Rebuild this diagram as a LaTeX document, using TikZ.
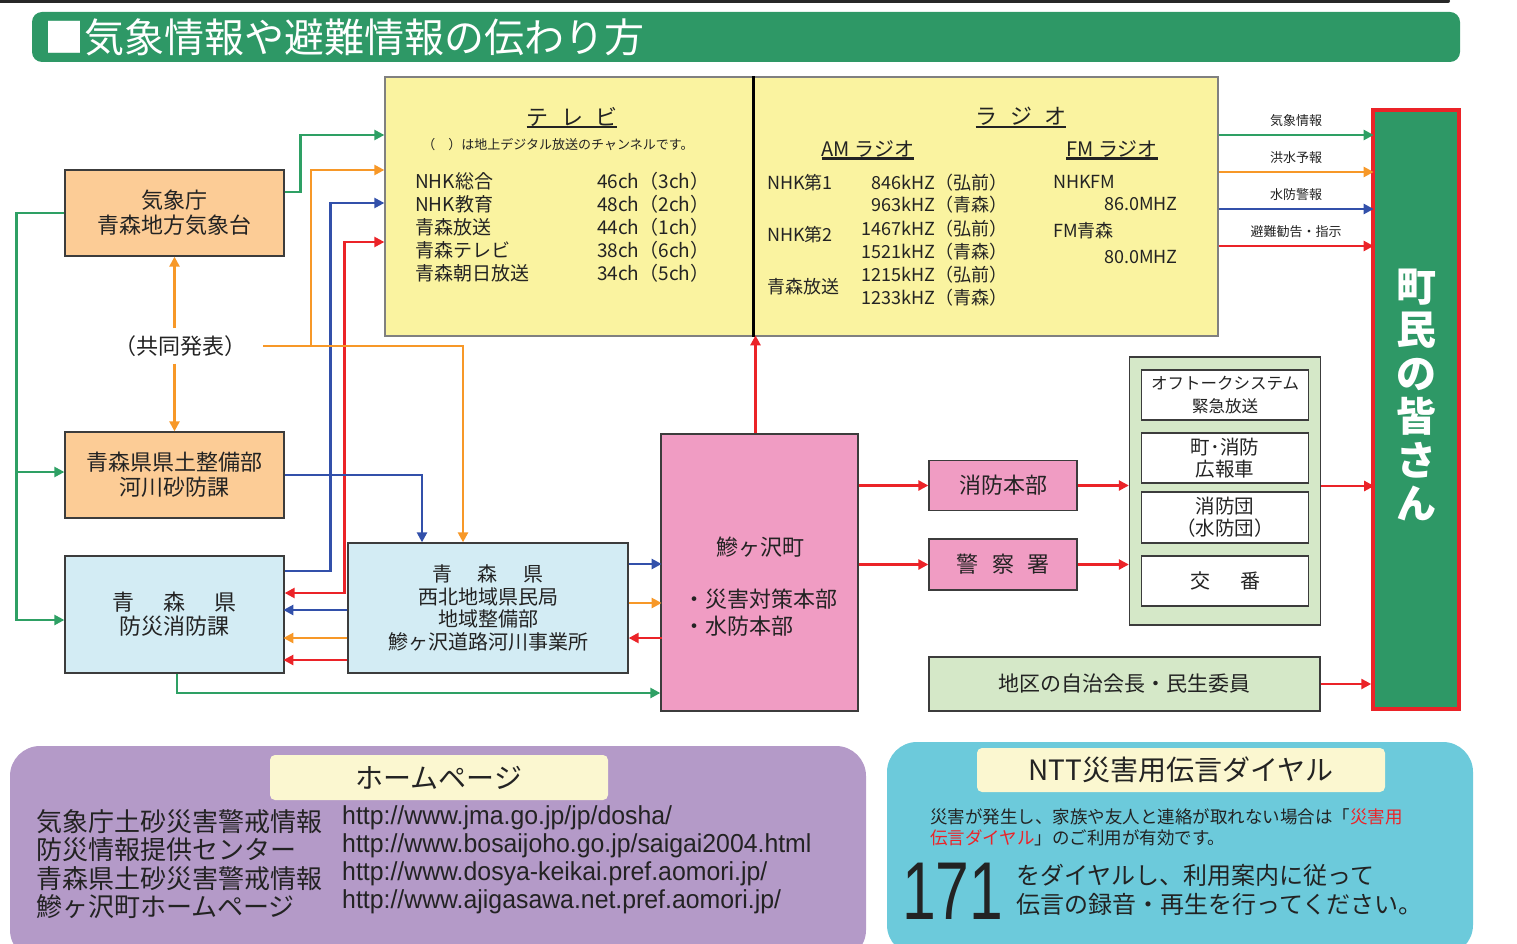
\documentclass[tikz,border=0pt]{standalone}
\usepackage{fontspec}
\setmainfont{Noto Sans CJK JP}
\newfontfamily\urlfont[FakeStretch=0.955]{Liberation Sans}
\newfontfamily\bignum[FakeStretch=0.74]{Liberation Sans}
\usetikzlibrary{arrows.meta}
\definecolor{bannergreen}{RGB}{46,152,102}
\definecolor{topline}{RGB}{40,40,40}
\definecolor{edge}{RGB}{60,60,60}
\definecolor{tvyellow}{RGB}{250,243,160}
\definecolor{orangebox}{RGB}{252,204,150}
\definecolor{bluebox}{RGB}{211,236,244}
\definecolor{pinkbox}{RGB}{240,156,195}
\definecolor{greenbox}{RGB}{213,232,200}
\definecolor{arrgreen}{RGB}{46,160,100}
\definecolor{arrorange}{RGB}{247,152,40}
\definecolor{arrblue}{RGB}{50,80,170}
\definecolor{arrred}{RGB}{235,35,40}
\definecolor{hppurple}{RGB}{180,154,200}
\definecolor{nttcyan}{RGB}{108,202,219}
\definecolor{headyellow}{RGB}{251,247,208}
\definecolor{ink}{RGB}{35,35,35}
\newcommand\fsz[2]{\fontsize{#1}{#2}\selectfont}
\begin{document}
\begin{tikzpicture}[x=1pt, y=-1pt,
    box/.style={draw=edge, line width=1.3pt, inner sep=0pt, align=center, text=ink},
    txt/.style={inner sep=0pt, text=ink},
    lab/.style={inner sep=0pt, text=ink, font=\fsz{13}{15}},
    wire/.style={line width=2.4pt},
    tip/.style={-{Triangle[length=10pt,width=10pt]}},
    gline/.style={wire, draw=arrgreen}, garrow/.style={gline, tip},
    oline/.style={wire, draw=arrorange}, oarrow/.style={oline, tip},
    bline/.style={wire, draw=arrblue}, barrow/.style={bline, tip},
    rline/.style={wire, draw=arrred}, rarrow/.style={rline, tip},
    uline/.style={line width=2.2pt, draw=ink}]
  \useasboundingbox (0,0) rectangle (1517,944);
  \clip (0,0) rectangle (1517,944);
  \draw[line width=4pt, line cap=round, topline] (0,1) -- (1448,1);
  \draw
    (746,37) node[fill=bannergreen, rounded corners=10pt, minimum width=1428pt, minimum height=50pt, inner sep=0pt] (banner) {}
    (44,37) node[anchor=west, inner sep=0pt, text=white, font=\fsz{40}{44}] (title) {■気象情報や避難情報の伝わり方};
  \draw
    (569,206.5) node[box, fill=tvyellow, draw=gray, minimum width=368pt, minimum height=259pt] (tv) {}
    (985.5,206.5) node[box, fill=tvyellow, draw=gray, minimum width=465pt, minimum height=259pt] (radio) {};
  \draw[line width=2.6pt] (tv.north east) -- (tv.south east);
  \draw
    (572,116.5) node[txt, font=\fsz{22}{24}] (tvhead) {テ\hspace{0.55em}レ\hspace{0.55em}ビ}
    (558,145) node[txt, font=\fsz{13}{15}] (tvnote) {（　）は地上デジタル放送のチャンネルです。}
    (415,181) node[txt, anchor=west, font=\fsz{19}{21}] (tv0) {NHK総合}
    (415,204) node[txt, anchor=west, font=\fsz{19}{21}] (tv1) {NHK教育}
    (415,227) node[txt, anchor=west, font=\fsz{19}{21}] (tv2) {青森放送}
    (415,250) node[txt, anchor=west, font=\fsz{19}{21}] (tv3) {青森テレビ}
    (415,273) node[txt, anchor=west, font=\fsz{19}{21}] (tv4) {青森朝日放送}
    (597,181) node[txt, anchor=west, font=\fsz{19}{21}] (ch0) {46ch（3ch）}
    (597,204) node[txt, anchor=west, font=\fsz{19}{21}] (ch1) {48ch（2ch）}
    (597,227) node[txt, anchor=west, font=\fsz{19}{21}] (ch2) {44ch（1ch）}
    (597,250) node[txt, anchor=west, font=\fsz{19}{21}] (ch3) {38ch（6ch）}
    (597,273) node[txt, anchor=west, font=\fsz{19}{21}] (ch4) {34ch（5ch）};
  \draw
    (1021,116.5) node[txt, font=\fsz{22}{24}] (radiohead) {ラ\hspace{0.55em}ジ\hspace{0.55em}オ}
    (868,149) node[txt, font=\fsz{20}{22}] (amhead) {AM ラジオ}
    (1112,149) node[txt, font=\fsz{20}{22}] (fmhead) {FM ラジオ}
    (767,183) node[txt, anchor=west, font=\fsz{18}{20}] (am0) {NHK第1}
    (767,235) node[txt, anchor=west, font=\fsz{18}{20}] (am1) {NHK第2}
    (767,287) node[txt, anchor=west, font=\fsz{18}{20}] (am2) {青森放送}
    (1008,183) node[txt, anchor=east, font=\fsz{18}{20}] (f0) {846kHZ（弘前）}
    (1008,205) node[txt, anchor=east, font=\fsz{18}{20}] (f1) {963kHZ（青森）}
    (1008,229) node[txt, anchor=east, font=\fsz{18}{20}] (f2) {1467kHZ（弘前）}
    (1008,252) node[txt, anchor=east, font=\fsz{18}{20}] (f3) {1521kHZ（青森）}
    (1008,275) node[txt, anchor=east, font=\fsz{18}{20}] (f4) {1215kHZ（弘前）}
    (1008,298) node[txt, anchor=east, font=\fsz{18}{20}] (f5) {1233kHZ（青森）}
    (1053,182) node[txt, anchor=west, font=\fsz{18}{20}] (fm0) {NHKFM}
    (1178,204) node[txt, anchor=east, font=\fsz{18}{20}] (mhz0) {86.0MHZ}
    (1053,231) node[txt, anchor=west, font=\fsz{18}{20}] (fm1) {FM青森}
    (1178,257) node[txt, anchor=east, font=\fsz{18}{20}] (mhz1) {80.0MHZ};
  \draw[uline] ([yshift=-1pt]tvhead.south west) -- ([yshift=-1pt]tvhead.south east);
  \draw[uline] ([yshift=-1pt]radiohead.south west) -- ([yshift=-1pt]radiohead.south east);
  \draw[uline] ([yshift=-1pt]amhead.south west) -- ([yshift=-1pt]amhead.south east);
  \draw[uline] ([yshift=-1pt]fmhead.south west) -- ([yshift=-1pt]fmhead.south east);
  \draw
    (174.5,213) node[box, fill=orangebox, minimum width=219pt, minimum height=86pt, font=\fsz{22}{25}] (met) {気象庁\\青森地方気象台}
    (180,346) node[txt, inner xsep=17pt, inner ysep=7pt, font=\fsz{22}{24}] (joint) {（共同発表）}
    (174.5,475) node[box, fill=orangebox, minimum width=219pt, minimum height=86pt, font=\fsz{22}{25}] (river) {青森県県土整備部\\河川砂防課}
    (174.5,614.5) node[box, fill=bluebox, minimum width=219pt, minimum height=117pt, font=\fsz{22}{24}] (pref) {青\hspace{1.3em}森\hspace{1.3em}県\\防災消防課}
    (488,608) node[box, fill=bluebox, minimum width=280pt, minimum height=130pt, font=\fsz{20}{22.5}] (west) {青\hspace{1.3em}森\hspace{1.3em}県\\西北地域県民局\\地域整備部\\鰺ヶ沢道路河川事業所}
    (759.5,572.5) node[box, fill=pinkbox, minimum width=197pt, minimum height=277pt] (town) {}
    (760,547) node[txt, font=\fsz{22}{24}] (townname) {鰺ヶ沢町}
    (683,599) node[txt, anchor=west, font=\fsz{22}{24}] (townhq) {・災害対策本部}
    (683,626) node[txt, anchor=west, font=\fsz{22}{24}] (townflood) {・水防本部}
    (1003,485.5) node[box, fill=pinkbox, minimum width=148pt, minimum height=50pt, font=\fsz{22}{24}] (fire) {消防本部}
    (1003,564.5) node[box, fill=pinkbox, minimum width=148pt, minimum height=51pt, font=\fsz{22}{24}] (police) {警\hspace{0.6em}察\hspace{0.6em}署}
    (1225,491) node[box, fill=greenbox, minimum width=191pt, minimum height=268pt] (group) {}
    (1225,395) node[box, fill=white, minimum width=167pt, minimum height=50pt, font=\fsz{16.5}{22.5}] (offtalk) {オフトークシステム\\緊急放送}
    (1225,458) node[box, fill=white, minimum width=167pt, minimum height=50pt, font=\fsz{19.5}{22}] (car) {町･消防\\広報車}
    (1225,517.5) node[box, fill=white, minimum width=167pt, minimum height=51pt, font=\fsz{19.5}{22}] (dan) {消防団\\（水防団）}
    (1225,581) node[box, fill=white, minimum width=167pt, minimum height=50pt, font=\fsz{20}{22}] (koban) {交\hspace{1.5em}番}
    (1124.5,684) node[box, fill=greenbox, minimum width=391pt, minimum height=54pt, font=\fsz{21}{23}] (chiku) {地区の自治会長・民生委員}
    (1416,409.5) node[box, fill=bannergreen, draw=arrred, line width=3.5pt, minimum width=86pt, minimum height=599pt] (res) {}
    (1416,395) node[txt, text=white, align=center, font=\fsz{40}{43.5}\bfseries] (restext) {町\\民\\の\\皆\\さ\\ん};
  \coordinate (obr) at (311,346);
  \begin{scope}
    \draw[barrow] ([yshift=43.5pt]pref.east) -- ++(46,0) |- ([yshift=3.5pt]tv.west);
    \draw[rline, {Triangle[length=10pt,width=10pt]}-{Triangle[length=10pt,width=10pt]}] ([yshift=21.5pt]pref.east) -- ++(60,0) |- ([yshift=-35.5pt]tv.west);
    \draw[garrow] ([yshift=21pt]met.east) -- ++(16,0) |- ([yshift=71.5pt]tv.west);
    \draw[garrow] (met.west) -- ++(-48,0) |- ([yshift=-5.5pt]pref.west);
    \draw[garrow] (met.west) ++(-48,0) |- ([yshift=3pt]river.west);
    \draw[oarrow] (met.south |- joint.north) -- (met.south);
    \draw[oarrow] (river.north |- joint.south) -- (river.north);
    \draw[oarrow] (joint.east) -| ([xshift=-25pt]west.north);
    \draw[oarrow] (obr) |- ([yshift=36.5pt]tv.west);
    \draw[barrow] (river.east) -| ([xshift=-66pt]west.north);
    \draw[barrow] ([yshift=-2pt]west.west) -- ++(-64,0);
    \draw[oarrow] ([yshift=-30pt]west.west) -- ++(-64,0);
    \draw[rarrow] ([yshift=-52pt]west.west) -- ++(-64,0);
    \draw[garrow] ([xshift=2.5pt]pref.south) |- ([yshift=-120.5pt]town.west);
    \draw[barrow] ([yshift=44pt]west.east) -- ++(33,0);
    \draw[oarrow] ([yshift=5pt]west.east) -- ++(33,0);
    \draw[rarrow] ([yshift=-30pt]west.east) ++(33,0) -- ++(-33,0);
    \draw[rarrow] ([xshift=-4pt]town.north) -- ++(0,-98);
    \draw[rarrow] (town.east |- fire.west) -- (fire.west);
    \draw[rarrow] (town.east |- police.west) -- (police.west);
    \draw[rarrow] (fire.east) -- (fire.east -| group.west);
    \draw[rarrow] (police.east) -- (police.east -| group.west);
    \draw[rarrow] ([yshift=5pt]group.east) -- ++(53,0);
    \draw[rarrow] (chiku.east) -- (chiku.east -| res.west);
    \draw[garrow] ([yshift=71.5pt]radio.east) -- ++(155,0) node[midway, above=7pt, lab] (l0) {気象情報};
    \draw[oarrow] ([yshift=34.5pt]radio.east) -- ++(155,0) node[midway, above=7pt, lab] (l1) {洪水予報};
    \draw[barrow] ([yshift=-2.5pt]radio.east) -- ++(155,0) node[midway, above=7pt, lab] (l2) {水防警報};
    \draw[rarrow] ([yshift=-39.5pt]radio.east) -- ++(155,0) node[midway, above=7pt, lab] (l3) {避難勧告・指示};
  \end{scope}
  \draw
    (438,853) node[fill=hppurple, rounded corners=30pt, minimum width=856pt, minimum height=214pt, inner sep=0pt] (hp) {}
    (439,777.5) node[fill=headyellow, rounded corners=5pt, minimum width=338pt, minimum height=45pt, inner sep=0pt, text=ink, font=\fsz{28}{30}] (hphead) {ホームページ}
    (36,822) node[txt, anchor=west, font=\fsz{26}{28}] (site0) {気象庁土砂災害警戒情報}
    (36,850) node[txt, anchor=west, font=\fsz{26}{28}] (site1) {防災情報提供センター}
    (36,879) node[txt, anchor=west, font=\fsz{26}{28}] (site2) {青森県土砂災害警戒情報}
    (36,907) node[txt, anchor=west, font=\fsz{26}{28}] (site3) {鰺ヶ沢町ホームページ}
    (342,818) node[txt, anchor=west, font=\urlfont\fsz{26}{28}] (url0) {http://www.jma.go.jp/jp/dosha/}
    (342,846) node[txt, anchor=west, font=\urlfont\fsz{26}{28}] (url1) {http://www.bosaijoho.go.jp/saigai2004.html}
    (342,874) node[txt, anchor=west, font=\urlfont\fsz{26}{28}] (url2) {http://www.dosya-keikai.pref.aomori.jp/}
    (342,902) node[txt, anchor=west, font=\urlfont\fsz{26}{28}] (url3) {http://www.ajigasawa.net.pref.aomori.jp/};
  \draw
    (1180,848.5) node[fill=nttcyan, rounded corners=30pt, minimum width=586pt, minimum height=213pt, inner sep=0pt] (ntt) {}
    (1181,770) node[fill=headyellow, rounded corners=5pt, minimum width=408pt, minimum height=44pt, inner sep=0pt, text=ink, font=\fsz{28}{30}] (ntthead) {NTT災害用伝言ダイヤル}
    (930,817) node[txt, anchor=west, font=\fsz{17.5}{20}] (note0) {災害が発生し、家族や友人と連絡が取れない場合は「\textcolor{arrred}{災害用}}
    (930,838) node[txt, anchor=west, font=\fsz{17.5}{20}] (note1) {\textcolor{arrred}{伝言ダイヤル}」のご利用が有効です。}
    (902,891) node[txt, anchor=west, font=\bignum\fsz{82}{82}] (dial) {171}
    (1016,875) node[txt, anchor=west, font=\fsz{24}{26}] (how0) {をダイヤルし、利用案内に従って}
    (1016,904) node[txt, anchor=west, font=\fsz{24}{26}] (how1) {伝言の録音・再生を行ってください。};
\end{tikzpicture}
\end{document}
